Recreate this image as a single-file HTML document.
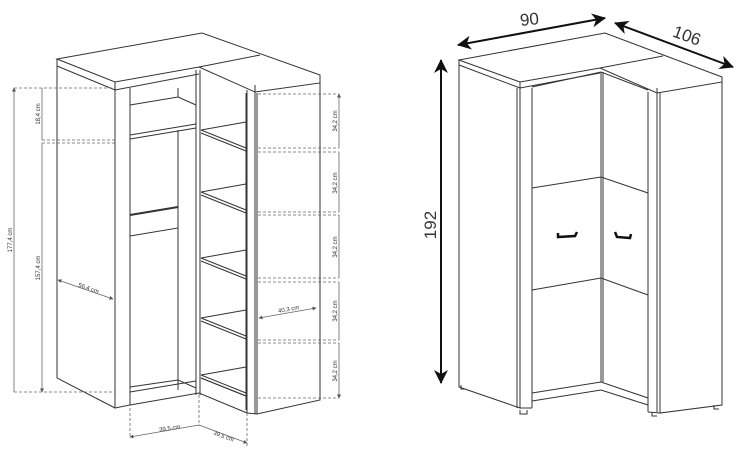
<!DOCTYPE html>
<html><head><meta charset="utf-8"><style>
html,body{margin:0;padding:0;background:#fff;width:750px;height:455px;overflow:hidden}
svg{display:block}
text{font-family:"Liberation Sans",sans-serif;fill:#333}
</style></head><body>
<svg width="750" height="455" viewBox="0 0 750 455" xmlns="http://www.w3.org/2000/svg">
<defs>
<marker id="a" markerWidth="8" markerHeight="8" refX="7" refY="4" orient="auto-start-reverse" markerUnits="userSpaceOnUse"><path d="M0,0 L8,4 L0,8 L2,4z" fill="#111"/></marker>
<marker id="s" markerWidth="4" markerHeight="4" refX="3.5" refY="2" orient="auto-start-reverse" markerUnits="userSpaceOnUse"><path d="M0,0 L4,2 L0,4z" fill="#555"/></marker>
<marker id="B" markerWidth="14" markerHeight="14" refX="13" refY="7" orient="auto-start-reverse" markerUnits="userSpaceOnUse"><path d="M0,0 L14,7 L0,14 L4,7z" fill="#111"/></marker>
</defs>
<g fill="none" stroke="#333" stroke-width="1">
<!-- LEFT CABINET -->
<path d="M57,59 L202,33 L320,75 L320,83 L255,92 L199,67 L115,82 L57,59Z M57,59 L57,66 L115,90 L115,82 M115,90 L199,74 M199,67 L260,55 M255,85 L255,92"/>
<path d="M57,66 L57,378 L115,408 L115,90 M115,408 L130,405 L130,88 M130,405 L199,393 L247,413 L257,414 L320,400 L320,83 M257,414 L257,93 M247,413 L247,90 M255,92 L255,414"/>
<path d="M130,105 L178,97 L196,105 M178,97 L178,88 M130,135 L196,124 M130,139 L196,128 M178,130 L178,390 M130,387 L178,380 L196,388 M130,392 L196,381"/>
<path d="M130,215 L178,207 L178,228 L130,236" /><path d="M130,215 L178,207" stroke-width="2"/>
<path d="M196,70 L196,395 M200,70 L200,395 M246,93 L246,410"/>
<g id="sh"><path d="M201,130 L246,122 M201,130 L246,148 M201,133 L246,151"/></g>
<use href="#sh" y="62"/><use href="#sh" y="128"/><use href="#sh" y="188"/><use href="#sh" y="245"/>
<path d="M201,378 L246,396"/>
</g>
<!-- left dims -->
<g stroke="#666" stroke-width="0.8" fill="none">
<path stroke-dasharray="3,2" d="M14,88 L115,88 M42,140 L115,140 M42,143 L115,143 M14,392 L115,392"/>
<path d="M14,88 L14,392 M42,88 L42,140 M42,143 L42,392" marker-start="url(#s)" marker-end="url(#s)"/>
<path d="M58,280 L113,299" marker-start="url(#s)" marker-end="url(#s)"/>
<path stroke-dasharray="3,2" d="M258,94 L339,94 M258,148 L339,148 M258,152 L339,152 M258,212 L339,212 M258,215 L339,215 M258,278 L339,278 M258,282 L339,282 M258,340 L339,340 M258,343 L339,343 M258,398 L339,398"/>
<path d="M339,94 L339,148 M339,152 L339,212 M339,215 L339,278 M339,282 L339,340 M339,343 L339,398" marker-start="url(#s)" marker-end="url(#s)"/>
<path d="M259,318 L316,308" marker-start="url(#s)" marker-end="url(#s)"/>
<path stroke-dasharray="3,2" d="M130,408 L130,438 M199,395 L199,426 M247,413 L247,446"/>
<path d="M130,437 L199,425 M199,425 L247,443" marker-start="url(#s)" marker-end="url(#s)"/>
</g>
<g font-size="6">
<text transform="translate(12,240) rotate(-90)" text-anchor="middle">177,4 cm</text>
<text transform="translate(40,114) rotate(-90)" text-anchor="middle">18,4 cm</text>
<text transform="translate(40,268) rotate(-90)" text-anchor="middle">157,4 cm</text>
<text transform="translate(88,290) rotate(19)" text-anchor="middle">56,4 cm</text>
<text transform="translate(337,121) rotate(-90)" text-anchor="middle">34,2 cm</text>
<text transform="translate(337,183) rotate(-90)" text-anchor="middle">34,2 cm</text>
<text transform="translate(337,247) rotate(-90)" text-anchor="middle">34,2 cm</text>
<text transform="translate(337,311) rotate(-90)" text-anchor="middle">34,2 cm</text>
<text transform="translate(337,371) rotate(-90)" text-anchor="middle">34,2 cm</text>
<text transform="translate(289,311) rotate(-10)" text-anchor="middle">40,3 cm</text>
<text transform="translate(170,430) rotate(-9)" text-anchor="middle">39,5 cm</text>
<text transform="translate(223,438) rotate(20)" text-anchor="middle">39,5 cm</text>
</g>
<!-- RIGHT CABINET -->
<g fill="none" stroke="#333" stroke-width="1">
<path d="M459,60 L605,33 L722,77 L722,82 L657,93 L600,68 L520,82 L459,60Z M459,60 L459,65 L520,88 L520,82 M520,88 L600,73 M600,68 L663,56 M657,88 L657,93"/>
<path d="M459,65 L459,387 L520,408 L520,88 M517,88 L517,408 M532,88 L532,408 M520,408 L532,408"/>
<path d="M532,87 L601,72 L648,90 M601,72 L601,382 M603,72 L603,382 M532,188 L601,177 L648,193 M532,290 L601,278 L648,295 M532,393 L601,382 L648,398 M532,401 L601,390 L648,405"/>
<path d="M648,92 L648,412 M657,93 L657,412 M660,93 L660,413 L722,405 L722,82 M648,412 L660,413"/>
<path d="M461,385 L461,389 L466,389 M520,410 L520,414 L527,414 L527,410 M652,412 L652,416 L657,416 M714,405 L714,409 L719,409" />
</g>
<path d="M558,233 L558,237 L575,236 L577,232" fill="none" stroke="#111" stroke-width="2.5"/>
<path d="M615,232 L617,237 L630,238 L631,234" fill="none" stroke="#111" stroke-width="2.5"/>
<g stroke="#111" stroke-width="2" fill="none">
<path d="M458,45 L605,18" marker-start="url(#B)" marker-end="url(#B)"/>
<path d="M615,23 L733,67" marker-start="url(#B)" marker-end="url(#B)"/>
<path d="M441,60 L441,383" marker-start="url(#B)" marker-end="url(#B)"/>
</g>
<g font-size="17" fill="#222">
<text transform="translate(530,25) rotate(-6)" text-anchor="middle">90</text>
<text transform="translate(685,41) rotate(20)" text-anchor="middle">106</text>
<text transform="translate(436,225) rotate(-90)" text-anchor="middle">192</text>
</g>
</svg>
</body></html>
